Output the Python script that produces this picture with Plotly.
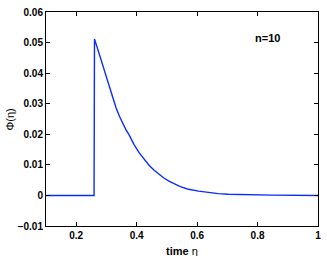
import plotly.graph_objects as go

# values
eta = [0.10, 0.20, 0.259, 0.2605, 0.270, 0.280, 0.288, 0.299, 0.310, 0.321, 0.332,
       0.343, 0.353, 0.364, 0.375, 0.391, 0.408, 0.425, 0.441, 0.457, 0.474,
       0.490, 0.507, 0.523, 0.539, 0.556, 0.572, 0.605, 0.638, 0.670, 0.703,
       0.769, 0.85, 1.0]
phi = [0.0, 0.0, 0.0, 0.0512, 0.0482, 0.0452, 0.0426, 0.0387, 0.0351, 0.0316, 0.0286,
       0.0259, 0.0236, 0.0216, 0.0198, 0.0167, 0.0140, 0.0118, 0.0099, 0.0083, 0.0069,
       0.0057, 0.0047, 0.0038, 0.0031, 0.0025, 0.0020, 0.0014, 0.0009, 0.0006, 0.0004,
       0.0002, 0.0001, 0.0]

x_ticks = [0.2, 0.4, 0.6, 0.8, 1.0]
x_labels = ["0.2", "0.4", "0.6", "0.8", "1"]
y_ticks = [-0.01, 0, 0.01, 0.02, 0.03, 0.04, 0.05, 0.06]
y_labels = ["\u22120.01", "0", "0.01", "0.02", "0.03", "0.04", "0.05", "0.06"]

font = "Liberation Sans, Arial, sans-serif"

fig = go.Figure()
fig.add_trace(go.Scatter(
    x=eta, y=phi, mode="lines",
    line=dict(color="#0a2cff", width=1.4),
    showlegend=False, hoverinfo="skip",
))

axis = dict(
    showgrid=False, zeroline=False, showline=True, linecolor="black",
    linewidth=1, mirror="ticks", ticks="inside", ticklen=4,
    tickcolor="black", tickfont=dict(family=font, size=10, color="black"),
)

fig.update_xaxes(
    range=[0.1, 1.0001], tickvals=x_ticks, ticktext=[f"<b>{t}</b>" for t in x_labels],
    **axis,
)
fig.update_yaxes(
    range=[-0.01, 0.06], tickvals=y_ticks, ticktext=[f"<b>{t}</b>" for t in y_labels],
    **axis,
)

# axis titles placed as annotations
fig.add_annotation(
    x=0.5, y=-0.08, xref="paper", yref="paper", showarrow=False, yanchor="top",
    text="<b>time</b> \u03b7", font=dict(family=font, size=11, color="black"),
)
fig.add_annotation(
    x=-0.16, y=0.5, xref="paper", yref="paper", showarrow=False, textangle=-90,
    text="\u03a6(\u03b7)", font=dict(family=font, size=11, color="black"),
)
fig.add_annotation(
    x=0.866, y=0.917, xref="paper", yref="paper", showarrow=False,
    text="<b>n=10</b>", font=dict(family=font, size=11, color="black"),
)

fig.update_layout(
    width=327, height=256,
    margin=dict(l=46, r=6, t=10, b=30),
    plot_bgcolor="white", paper_bgcolor="white",
)

fig.write_html("out.html", config={"displayModeBar": False})

# drop the browser's default body margin so the figure sits at the page corner
with open("out.html", encoding="utf-8") as f:
    page = f.read()
page = page.replace("<head>", "<head><style>body{margin:0;overflow:hidden}</style>", 1)
with open("out.html", "w", encoding="utf-8") as f:
    f.write(page)
